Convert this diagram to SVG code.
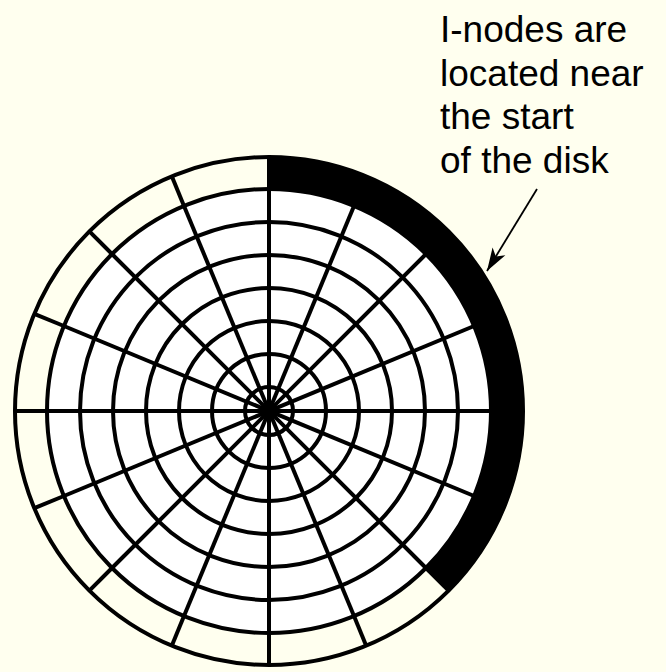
<svg xmlns="http://www.w3.org/2000/svg" width="666" height="672" viewBox="0 0 666 672">
<style>
.ln{stroke:#000;stroke-width:4;fill:none}
.ring{stroke:#000;stroke-width:4;fill:none}
.lbl{font-family:"Liberation Sans",Arial,sans-serif;font-size:37px;fill:#000}
</style>
<defs>
<marker id="ah" markerUnits="userSpaceOnUse" viewBox="-24 -10 26 20" refX="0" refY="0" markerWidth="26" markerHeight="20" orient="auto">
<path d="M0,0 L-23,-7.5 L-17,0 L-23,7.5 Z" fill="#000"/>
</marker>
</defs>
<rect width="666" height="672" fill="#ffffef"/>
<g id="disk">
<circle cx="269" cy="411" r="222" fill="#fff"/>
<path d="M269 157 A254 254 0 0 1 448.6 590.6 L426 568 A222 222 0 0 0 269 189 Z" fill="#000"/>
<g class="ring">
<circle cx="269" cy="411" r="24"/>
<circle cx="269" cy="411" r="57"/>
<circle cx="269" cy="411" r="90"/>
<circle cx="269" cy="411" r="123"/>
<circle cx="269" cy="411" r="156"/>
<circle cx="269" cy="411" r="189"/>
<circle cx="269" cy="411" r="222"/>
<circle cx="269" cy="411" r="254"/>
</g>
<g class="ln">
<line x1="47" y1="411" x2="491" y2="411"/>
<line x1="474.1" y1="326" x2="63.9" y2="496"/>
<line x1="426" y1="254" x2="112" y2="568"/>
<line x1="354" y1="205.9" x2="184" y2="616.1"/>
<line x1="269" y1="189" x2="269" y2="633"/>
<line x1="184" y1="205.9" x2="354" y2="616.1"/>
<line x1="112" y1="254" x2="426" y2="568"/>
<line x1="63.9" y1="326" x2="474.1" y2="496"/>
<line x1="269" y1="189" x2="269" y2="157"/>
<line x1="184" y1="205.9" x2="171.8" y2="176.3"/>
<line x1="112" y1="254" x2="89.4" y2="231.4"/>
<line x1="63.9" y1="326" x2="34.3" y2="313.8"/>
<line x1="47" y1="411" x2="15" y2="411"/>
<line x1="63.9" y1="496" x2="34.3" y2="508.2"/>
<line x1="112" y1="568" x2="89.4" y2="590.6"/>
<line x1="184" y1="616.1" x2="171.8" y2="645.7"/>
<line x1="269" y1="633" x2="269" y2="665"/>
<line x1="354" y1="616.1" x2="366.2" y2="645.7"/>
<line x1="426" y1="568" x2="448.6" y2="590.6"/>
</g>
</g>
<g id="label">
<text class="lbl" x="440" y="42">I-nodes are</text>
<text class="lbl" x="440" y="85.5">located near</text>
<text class="lbl" x="440" y="129">the start</text>
<text class="lbl" x="440" y="172.5">of the disk</text>
</g>
<g id="connectors">
<line x1="537" y1="189" x2="487" y2="271" stroke="#000" stroke-width="1.8" marker-end="url(#ah)"/>
</g>
</svg>
